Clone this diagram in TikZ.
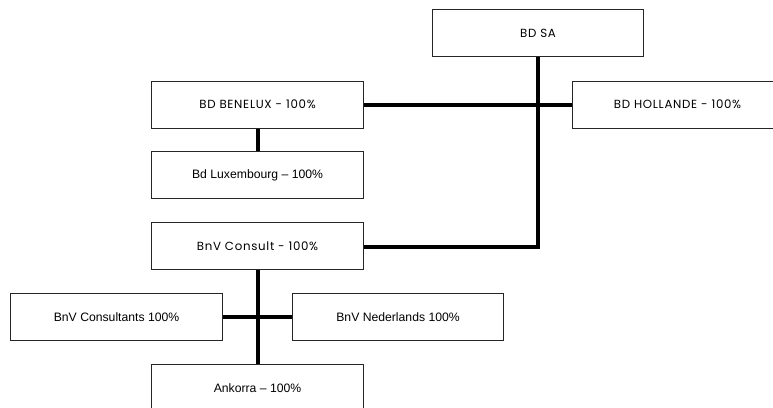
\documentclass[tikz,border=0pt]{standalone}
\usepackage{fontspec}
\setmainfont{Liberation Sans}
\newfontfamily\geo[LetterSpace=6]{Poppins}
\begin{document}
\begin{tikzpicture}[x=1pt,y=-1pt,
  box/.style={draw=black!85,line width=1.1pt,fill=white,minimum width=212pt,minimum height=47pt,anchor=north west,inner sep=0pt,font=\fontsize{12.2}{13}\selectfont},
  gbox/.style={box,font=\geo\fontsize{11.8}{13}\selectfont},
  link/.style={line width=4pt}]
\useasboundingbox (0,0) rectangle (773,407);
\clip (0,0) rectangle (773,407);
\node[gbox,minimum width=211pt] (sa) at (432,9) {BD SA};
\node[gbox] (ben) at (151,80.5) {BD BENELUX - 100\%};
\node[gbox,minimum width=210pt] (hol) at (572,80.5) {BD HOLLANDE - 100\%};
\node[box] (lux) at (151,151) {Bd Luxembourg -- 100\%};
\node[gbox] (bnv) at (151,222) {BnV Consult - 100\%};
\node[box] (bcs) at (10,293) {BnV Consultants 100\%};
\node[box,minimum width=211pt] (ned) at (292,293) {BnV Nederlands 100\%};
\node[box] (ank) at (151,364) {Ankorra -- 100\%};
\coordinate (j1) at (538,246.5);
\coordinate (j2) at (257.5,317);
\draw[link,line join=miter] (sa.south -| j1) -- (j1) -- (bnv.east |- j1);
\draw[link] (ben.east) -- (hol.west);
\draw[link] (ben.south -| j2) -- (lux.north -| j2);
\draw[link] (bnv.south -| j2) -- (ank.north -| j2);
\draw[link] (bcs.east) -- (ned.west);
\end{tikzpicture}
\end{document}
